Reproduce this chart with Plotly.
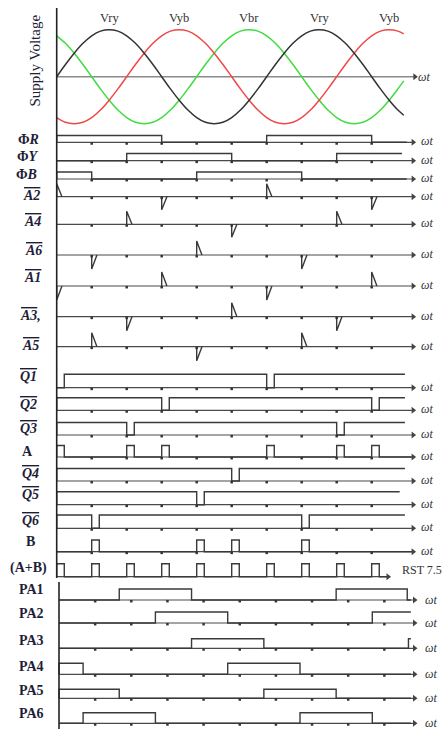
import plotly.graph_objects as go

W, H = 446, 729

# ---------------- DATA (angles in degrees) ----------------
sine_deg = list(range(0, 600, 15)) + [595]
v_ry = [0, .26, .5, .71, .87, .97, 1, .97, .87, .71, .5, .26, 0, -.26, -.5, -.71, -.87, -.97, -1, -.97,
        -.87, -.71, -.5, -.26, 0, .26, .5, .71, .87, .97, 1, .97, .87, .71, .5, .26, 0, -.26, -.5, -.71, -.82]
v_yb = [-.87, -.97, -1, -.97, -.87, -.71, -.5, -.26, 0, .26, .5, .71, .87, .97, 1, .97, .87, .71, .5, .26,
        0, -.26, -.5, -.71, -.87, -.97, -1, -.97, -.87, -.71, -.5, -.26, 0, .26, .5, .71, .87, .97, 1, .97, .91]
v_br = [.87, .71, .5, .26, 0, -.26, -.5, -.71, -.87, -.97, -1, -.97, -.87, -.71, -.5, -.26, 0, .26, .5, .71,
        .87, .97, 1, .97, .87, .71, .5, .26, 0, -.26, -.5, -.71, -.87, -.97, -1, -.97, -.87, -.71, -.5, -.26, -.09]
phase_names = ["Vry", "Vyb", "Vbr", "Vry", "Vyb"]
phase_peak_deg = [90, 210, 330, 450, 570]

phi_r_high = [(0, 180), (360, 540)]
phi_y_high = [(120, 300), (480, 700)]
phi_b_high = [(0, 60), (240, 420)]

a2_up, a2_dn = [0, 360], [180, 540]
a4_up, a4_dn = [120, 480], [300]
a6_up, a6_dn = [240], [60, 420]
a1_up, a1_dn = [180, 540], [0, 360]
a3_up, a3_dn = [300], [120, 480]
a5_up, a5_dn = [60, 420], [240]

q1_notch = [0, 360]
q2_notch = [180, 540]
q3_notch = [120, 480]
q4_notch = [300]
q5_notch = [240]
q6_notch = [60, 420]
a_pulse = [0, 120, 180, 360, 480, 540]
b_pulse = [60, 240, 300, 420]
ab_pulse = [0, 60, 120, 180, 240, 300, 360, 420, 480, 540]
notch_width = 13
spike_width = 9

pa1_high = [(100, 220), (460, 578)]
pa2_high = [(160, 280), (520, 700)]
pa3_high = [(220, 340), (580, 700)]
pa4_high = [(0, 40), (280, 400)]
pa5_high = [(0, 100), (340, 460)]
pa6_high = [(40, 160), (400, 520)]

tick_deg = [60, 120, 180, 240, 300, 360, 420, 480, 540]

# ---------------- helpers ----------------
def step_path(highs, end):
    xs, ys = [0], [0]
    for a, b in highs:
        xs += [a, a]; ys += [0, 1]
        if b < end:
            xs += [b, b]; ys += [1, 0]
        else:
            xs += [end]; ys += [1]
            return xs, ys
    xs.append(end); ys.append(0)
    return xs, ys

def notches_to_highs(notches, width, end):
    highs, t = [], 0
    for n in notches:
        if n > t:
            highs.append((t, n))
        t = n + width
    highs.append((t, end))
    return highs

def pulses_to_highs(pulses, width):
    return [(p, p + width) for p in pulses]

def spike_path(ups, downs, w):
    xs, ys = [], []
    for t in ups:
        xs += [t, t, t + w, None]; ys += [0, 1, 0, None]
    for t in downs:
        xs += [t, t, t + w, None]; ys += [0, -1, 0, None]
    return xs, ys

# ---------------- layout of rows (pixel baselines) ----------------
X0, K = 56.7, 0.5833
X0b, Kb = 59.0, 0.6025

SINE_C, SINE_A = 76.7, 47.0

top_rows = [
    ("Φ<i>R</i>", "step", phi_r_high, 142.3, 6.8, 600, 611, 29, 139),
    ("Φ<i>Y</i>", "step", phi_y_high, 160.7, 7.2, 592, 611, 28, 156.5),
    ("Φ<i>B</i>", "step", phi_b_high, 179.0, 7.0, 600, 611, 26, 174.5),
    ("A2", "spike", (a2_up, a2_dn), 196.7, 13, 0, 611, 31.5, 195),
    ("A4", "spike", (a4_up, a4_dn), 224.3, 13, 0, 611, 32, 221),
    ("A6", "spike", (a6_up, a6_dn), 255.0, 14, 0, 611, 33, 250),
    ("A1", "spike", (a1_up, a1_dn), 286.0, 14, 0, 611, 32, 277.5),
    ("A3", "spike", (a3_up, a3_dn), 316.7, 14, 0, 611, 30, 315),
    ("A5", "spike", (a5_up, a5_dn), 346.7, 14, 0, 611, 30, 345),
    ("Q1", "notch", q1_notch, 387.7, 13.5, 597, 611, 29, 376),
    ("Q2", "notch", q2_notch, 410.3, 12.5, 597, 611, 29, 404),
    ("Q3", "notch", q3_notch, 435.0, 12.5, 597, 611, 29, 428.5),
    ("A", "pulse", a_pulse, 457.0, 11.5, 611, 611, 27.5, 451),
    ("Q4", "notch", q4_notch, 481.0, 12.5, 597, 611, 30, 473),
    ("Q5", "notch", q5_notch, 504.7, 13.0, 588, 611, 30, 494),
    ("Q6", "notch", q6_notch, 528.3, 13.3, 597, 611, 30, 520),
    ("B", "pulse", b_pulse, 551.7, 11.7, 611, 611, 30, 541.7),
    ("(A+B)", "pulse", ab_pulse, 576.7, 13.0, 568, 568, 29, 567.5),
]
bottom_rows = [
    ("PA1", pa1_high, 600.0, 11, 31, 589.5),
    ("PA2", pa2_high, 623.0, 11, 31, 613),
    ("PA3", pa3_high, 648.3, 9.5, 31, 640),
    ("PA4", pa4_high, 674.3, 11, 31, 666.5),
    ("PA5", pa5_high, 698.3, 9, 31, 690),
    ("PA6", pa6_high, 723.3, 10.5, 31, 713.5),
]
PA_WAVE_END, PA_AXIS_END = 584, 590
label_suffix = {"A3": ","}

LINE = "#3a3a3a"
AXIS = "#4a4a4a"
TXT = "#1e1e38"
SERIF = "Liberation Serif, Times New Roman, serif"

fig = go.Figure()

def add_line(xs, ys, color=LINE, width=1.3, axis="x", shape="linear"):
    fig.add_trace(go.Scatter(x=xs, y=ys, mode="lines", xaxis=axis, yaxis="y",
                             line=dict(color=color, width=width, shape=shape),
                             hoverinfo="skip", showlegend=False))

# ---- supply voltage panel ----
add_line([0, 614], [SINE_C, SINE_C], color="#8a8a8a", width=1.5)
for vals, col in ((v_br, "#3fdc3f"), (v_yb, "#f04848"), (v_ry, "#333333")):
    add_line(sine_deg, [SINE_C - v * SINE_A for v in vals], color=col, width=1.5, shape="spline")

# ---- top timing rows ----
wx, wy, ax_x, ax_y, tk_x, tk_y, ar_x, ar_y = [], [], [], [], [], [], [], []
for label, kind, data, base, h, wend, aend, lx, ly in top_rows:
    if kind == "step":
        xs, ys = step_path(data, wend)
    elif kind == "notch":
        xs, ys = step_path(notches_to_highs(data, notch_width, wend), wend)
    elif kind == "pulse":
        xs, ys = step_path(pulses_to_highs(data, notch_width), wend)
    else:
        xs, ys = spike_path(data[0], data[1], spike_width)
    wx += xs + [None]
    wy += [None if y is None else base - y * h for y in ys] + [None]
    ax_x += [0, aend - 2, None]; ax_y += [base, base, None]
    ar_x.append(aend); ar_y.append(base)
    if label != "(A+B)":
        for t in tick_deg:
            tk_x.append(t); tk_y.append(base + 1.2)

add_line(ax_x, ax_y, color=AXIS, width=1.2)
add_line(wx, wy, color=LINE, width=1.4)
fig.add_trace(go.Scatter(x=tk_x, y=tk_y, mode="markers", xaxis="x", yaxis="y",
                         marker=dict(symbol="square", size=2.5, color="#333"),
                         hoverinfo="skip", showlegend=False))
fig.add_trace(go.Scatter(x=ar_x + [614], y=ar_y + [SINE_C], mode="markers", xaxis="x", yaxis="y",
                         marker=dict(symbol="triangle-right", size=6, color="#444"),
                         hoverinfo="skip", showlegend=False))

# ---- bottom PA rows ----
bx, by, bax, bay, btx, bty, bar_x, bar_y = [], [], [], [], [], [], [], []
for label, highs, base, h, lx, ly in bottom_rows:
    xs, ys = step_path(highs, PA_WAVE_END)
    bx += xs + [None]
    by += [base - y * h for y in ys] + [None]
    bax += [0, PA_AXIS_END - 2, None]; bay += [base, base, None]
    bar_x.append(PA_AXIS_END); bar_y.append(base)
    for t in tick_deg:
        btx.append(t); bty.append(base + 1.2)
add_line(bax, bay, color=AXIS, width=1.2, axis="x2")
add_line(bx, by, color=LINE, width=1.4, axis="x2")
fig.add_trace(go.Scatter(x=btx, y=bty, mode="markers", xaxis="x2", yaxis="y",
                         marker=dict(symbol="square", size=2.5, color="#333"),
                         hoverinfo="skip", showlegend=False))
fig.add_trace(go.Scatter(x=bar_x, y=bar_y, mode="markers", xaxis="x2", yaxis="y",
                         marker=dict(symbol="triangle-right", size=6, color="#444"),
                         hoverinfo="skip", showlegend=False))

# ---- vertical axes ----
add_line([0, 0], [8, 578], color="#222", width=1.6)
add_line([0, 0], [582, 729], color="#222", width=1.6, axis="x2")

# ---------------- annotations ----------------
ann = []
def txt(x_px, y_px, text, size=13, color=TXT, italic=False, bold=False, xanchor="center", angle=0):
    ann.append(dict(x=x_px / W, xref="paper", y=y_px, yref="y", text=text, showarrow=False,
                    xanchor=xanchor, yanchor="middle", textangle=angle,
                    font=dict(family=SERIF, size=size, color=color,
                              weight="bold" if bold else "normal",
                              style="italic" if italic else "normal")))

txt(34.5, 61, "Supply Voltage", size=15, angle=-90)
for name, d in zip(phase_names, phase_peak_deg):
    txt(X0 + K * d, 18, name, size=12.5, color="#333")
txt(424, 77, "ωt", size=12, color="#333", italic=True)

for label, kind, data, base, h, wend, aend, lx, ly in top_rows:
    if kind == "spike" or label.startswith("Q"):
        t = "<span style='text-decoration:overline'>%s</span>%s" % (label, label_suffix.get(label, ""))
        txt(lx, ly, t, size=14, italic=True, bold=True)
    else:
        txt(lx, ly, label, size=14, bold=True)
    if label == "(A+B)":
        txt(422, 570, "RST 7.5", size=12, color="#333")
    else:
        txt(427, base - 1, "ωt", size=12, color="#333", italic=True)

for label, highs, base, h, lx, ly in bottom_rows:
    txt(lx, ly, label, size=14, bold=True)
    txt(431, base, "ωt", size=12, color="#333", italic=True)

fig.update_layout(
    width=W, height=H, margin=dict(l=0, r=0, t=0, b=0, pad=0),
    paper_bgcolor="white", plot_bgcolor="white",
    xaxis=dict(range=[-X0 / K, (W - X0) / K], visible=False, fixedrange=True),
    xaxis2=dict(range=[-X0b / Kb, (W - X0b) / Kb], visible=False, overlaying="x", anchor="y"),
    yaxis=dict(range=[H, 0], visible=False),
    annotations=ann,
    showlegend=False,
)

fig.write_html("out.html", config={"displayModeBar": False},
               post_script="document.body.style.margin='0';document.body.style.overflow='hidden';")
